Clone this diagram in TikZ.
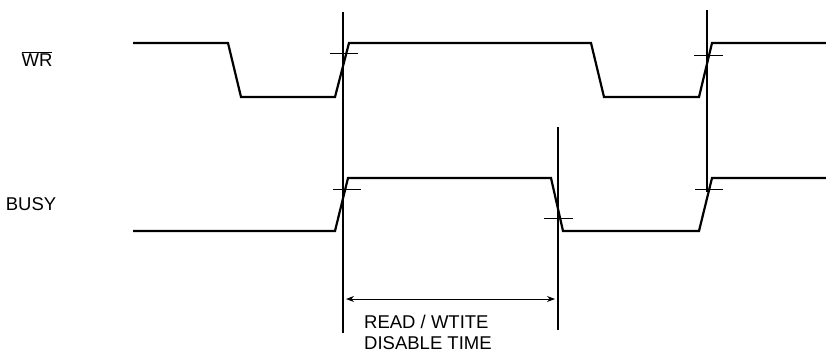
\documentclass[tikz,border=0pt]{standalone}
\usepackage{fontspec}
\setmainfont{Liberation Sans}
\usetikzlibrary{arrows.meta}

\begin{document}
\begin{tikzpicture}[x=1pt, y=-1pt,
        wave/.style={line width=2.2pt, line join=miter},
        marker/.style={line width=1.2pt},
        tick/.style={line width=1pt},
        sig/.style={font=\fontsize{18.5}{21}\selectfont, inner sep=0pt}]
        \useasboundingbox (0, 0) rectangle (826, 356);
        % signal names
        \node[sig] (wr) at (37, 59) {$\overline{\mbox{WR}}$};
        \node[sig] (busy) at (31, 204) {BUSY};
        % waveforms
        \draw[wave] (133, 43) -- (228, 43) -- (241, 97) -- (335, 97) -- (349, 43)
                -- (591, 43) -- (604, 97) -- (699, 97) -- (712, 43) -- (826, 43);
        \draw[wave] (133, 231) -- (335, 231) -- (348, 178) -- (551, 178)
                -- (563, 231) -- (699, 231) -- (712, 178) -- (826, 178);
        % reference lines
        \coordinate (t1) at (343, 12);
        \coordinate (t1b) at (343, 333);
        \coordinate (t2) at (707, 10);
        \coordinate (t2b) at (707, 192);
        \coordinate (t3) at (558, 127);
        \coordinate (t3b) at (558, 330);
        \draw[marker] (t1) -- (t1b);
        \draw[marker] (t2) -- (t2b);
        \draw[marker] (t3) -- (t3b);
        % crossing marks
        \draw[tick] (330, 53) -- (358, 53);
        \draw[tick] (694, 55) -- (723, 55);
        \draw[tick] (333, 189) -- (361, 189);
        \draw[tick] (544, 218) -- (573, 218);
        \draw[tick] (695, 189) -- (723, 189);
        % disable time
        \coordinate (d1) at (t1 |- 0, 299);
        \coordinate (d2) at (t3 |- 0, 299);
        \draw[tick, {Stealth[length=8pt, width=6pt]}-{Stealth[length=8pt, width=6pt]}]
                ([xshift=3pt]d1) -- ([xshift=-3pt]d2);
        \node[sig, anchor=north west, align=left] (rw) at (364, 315)
                {READ / WTITE\\DISABLE TIME};
      \end{tikzpicture}
\end{document}
